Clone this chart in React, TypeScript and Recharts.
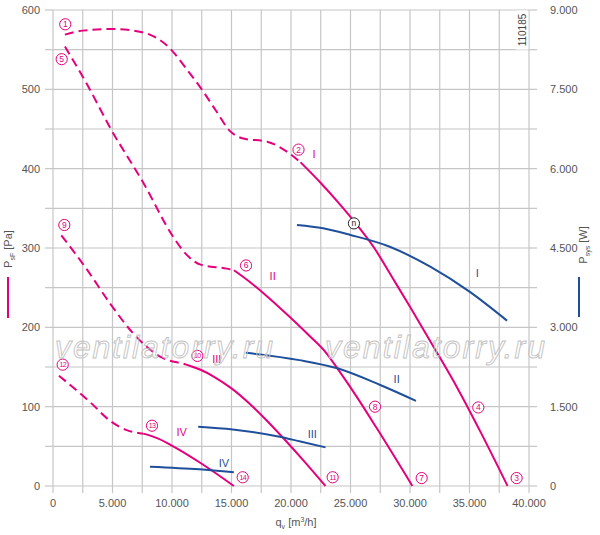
import React from 'react';
import { ComposedChart, Line, XAxis, YAxis, CartesianGrid, ReferenceDot } from 'recharts';

const PINK = '#e4007c';
const BLUE = '#1f4f9b';
const GRID = '#c6c6c6';
const TEXT = '#555555';
const FONT = '"Liberation Sans", Arial, Helvetica, sans-serif';

// tick values
const flowTicks = [0, 2500, 5000, 7500, 10000, 12500, 15000, 17500, 20000, 22500, 25000, 27500, 30000, 32500, 35000, 37500, 40000];
const pressureTicks = [0, 50, 100, 150, 200, 250, 300, 350, 400, 450, 500, 550, 600];
const powerTicks = [0, 750, 1500, 2250, 3000, 3750, 4500, 5250, 6000, 6750, 7500, 8250, 9000];

// pressure curves [Pa] (x = q_v m3/h)
const dashed1 = [
  { x: 1000, y: 569 }, { x: 2500, y: 574 }, { x: 5000, y: 576 }, { x: 7500, y: 572 },
  { x: 9800, y: 552 }, { x: 11200, y: 526 }, { x: 12500, y: 500 }, { x: 13700, y: 473 },
  { x: 14900, y: 447 }, { x: 16000, y: 438 }, { x: 18000, y: 434 }, { x: 19700, y: 421 }, { x: 20800, y: 408 },
];
const curveI = [
  { x: 20800, y: 408 }, { x: 22500, y: 382 }, { x: 24000, y: 357 }, { x: 25500, y: 330 },
  { x: 27000, y: 300 }, { x: 28500, y: 263 }, { x: 30000, y: 226 }, { x: 32000, y: 175 },
  { x: 34000, y: 123 }, { x: 36000, y: 66 }, { x: 38200, y: 0 },
];
const dashed5 = [
  { x: 1000, y: 554 }, { x: 2800, y: 508 }, { x: 4900, y: 449 }, { x: 7600, y: 382 },
  { x: 10100, y: 314 }, { x: 11200, y: 292 }, { x: 12400, y: 279 }, { x: 14600, y: 274 }, { x: 15200, y: 272 },
];
const curveII = [
  { x: 15200, y: 272 }, { x: 16300, y: 260 }, { x: 18000, y: 239 }, { x: 19900, y: 213 },
  { x: 21500, y: 190 }, { x: 23000, y: 167 }, { x: 24000, y: 146 }, { x: 25500, y: 113 },
  { x: 27200, y: 73 }, { x: 30200, y: 0 },
];
const dashed9 = [
  { x: 700, y: 316 }, { x: 2800, y: 274 }, { x: 4800, y: 230 }, { x: 6700, y: 193 },
  { x: 9000, y: 163 }, { x: 11200, y: 153 }, { x: 11600, y: 151 },
];
const curveIII = [
  { x: 11600, y: 151 }, { x: 12400, y: 146.5 }, { x: 13500, y: 138 }, { x: 15000, y: 123 },
  { x: 16500, y: 104 }, { x: 18000, y: 82 }, { x: 19500, y: 58 }, { x: 21000, y: 33 }, { x: 22900, y: 0 },
];
const dashed12 = [
  { x: 500, y: 139 }, { x: 3100, y: 106 }, { x: 4900, y: 81 }, { x: 6200, y: 70.5 }, { x: 7600, y: 66 },
];
const curveIV = [
  { x: 7600, y: 66 }, { x: 8800, y: 60 }, { x: 10100, y: 50 }, { x: 12400, y: 29 }, { x: 15200, y: 0 },
];

// power curves [W]
const powerI = [
  { x: 20500, y: 4935 }, { x: 22700, y: 4872 }, { x: 25000, y: 4746 }, { x: 28300, y: 4524 },
  { x: 31700, y: 4146 }, { x: 35000, y: 3674 }, { x: 38150, y: 3126 },
];
const powerII = [
  { x: 16200, y: 2520 }, { x: 20700, y: 2380 }, { x: 23900, y: 2225 }, { x: 27500, y: 1910 }, { x: 30500, y: 1610 },
];
const powerIII = [
  { x: 12200, y: 1121 }, { x: 15100, y: 1070 }, { x: 19050, y: 932 }, { x: 20800, y: 840 }, { x: 22900, y: 730 },
];
const powerIV = [
  { x: 8150, y: 365 }, { x: 12300, y: 315 }, { x: 15200, y: 258 },
];

// circled point markers (x, y in Pa)
const markers = [
  { x: 1030, y: 582, t: '1' }, { x: 20630, y: 424, t: '2' }, { x: 38960, y: 10, t: '3' },
  { x: 35740, y: 99, t: '4' }, { x: 730, y: 538, t: '5' }, { x: 16220, y: 278, t: '6' },
  { x: 30980, y: 10, t: '7' }, { x: 27060, y: 100, t: '8' }, { x: 950, y: 329, t: '9' },
  { x: 12130, y: 164, t: '10' }, { x: 23500, y: 11, t: '11' }, { x: 815, y: 153, t: '12' },
  { x: 8320, y: 76, t: '13' }, { x: 15940, y: 11, t: '14' },
];
const optimum = [{ x: 25290, y: 331, t: 'n' }];

// roman curve labels (x, y in Pa)
const pinkLabels = [
  { x: 21930, y: 418, t: 'I' }, { x: 18460, y: 265, t: 'II' },
  { x: 13760, y: 160, t: 'III' }, { x: 10820, y: 68, t: 'IV' },
];
const blueLabels = [
  { x: 35650, y: 268, t: 'I' }, { x: 28880, y: 135, t: 'II' },
  { x: 21790, y: 66, t: 'III' }, { x: 14370, y: 29, t: 'IV' },
];

const fmtThousands = (v: number) => {
  if (v === 0) return '0';
  const th = Math.floor(v / 1000);
  const rest = String(v % 1000).padStart(3, '0');
  return `${th}.${rest}`;
};

const Circled = (props: any) => {
  const { cx, cy, t, color } = props;
  const two = t.length > 1;
  return (
    <g>
      <circle cx={cx} cy={cy} r={5.6} fill="#ffffff" stroke={color} strokeWidth={1} />
      <text x={cx} y={cy + (two ? 2.6 : 3)} textAnchor="middle" fontSize={two ? 7 : 8.5}
        fontFamily={FONT} fill={color} letterSpacing={two ? -0.6 : 0}>{t}</text>
    </g>
  );
};

const Roman = (props: any) => {
  const { cx, cy, t, color } = props;
  return (
    <text x={cx} y={cy + 4} textAnchor="middle" fontSize={11} fontFamily={FONT} fill={color}>{t}</text>
  );
};

const lineCommon = { type: 'monotone' as const, dataKey: 'y', dot: false, activeDot: false, isAnimationActive: false, strokeWidth: 2 };

export default function App() {
  return (
    <div style={{ position: 'absolute', left: 0, top: 0, width: 600, height: 535, background: '#fff' }}>
      <ComposedChart width={600} height={535} margin={{ top: 10, right: 0, bottom: 0, left: 0 }}>
        <CartesianGrid stroke={GRID} strokeWidth={1.2} />
        <XAxis dataKey="x" type="number" domain={[0, 40000]} ticks={flowTicks} interval={0}
          allowDataOverflow height={49} axisLine={false} tickLine={{ stroke: GRID, strokeWidth: 1.2 }}
          tickSize={7} tickMargin={6}
          tick={{ fill: TEXT, fontSize: 11, fontFamily: FONT }}
          tickFormatter={(v: number) => (v % 5000 === 0 ? fmtThousands(v) : '')} />
        <YAxis type="number" domain={[0, 600]} ticks={pressureTicks} interval={0} width={53}
          axisLine={false} tickLine={{ stroke: GRID, strokeWidth: 1.2 }} tickSize={8} tickMargin={5}
          tick={{ fill: TEXT, fontSize: 11, fontFamily: FONT }}
          tickFormatter={(v: number) => (v % 100 === 0 ? String(v) : '')} />
        <YAxis yAxisId="right" orientation="right" type="number" domain={[0, 9000]} ticks={powerTicks}
          interval={0} width={71} axisLine={false} tickLine={{ stroke: GRID, strokeWidth: 1.2 }}
          tickSize={8} tickMargin={13}
          tick={{ fill: TEXT, fontSize: 11, fontFamily: FONT, textAnchor: 'start' }}
          tickFormatter={(v: number) => (v % 1500 === 0 ? fmtThousands(v) : '')} />

        <Line {...lineCommon} data={dashed1} stroke={PINK} strokeDasharray="9 5" />
        <Line {...lineCommon} data={dashed5} stroke={PINK} strokeDasharray="9 5" />
        <Line {...lineCommon} data={dashed9} stroke={PINK} strokeDasharray="9 5" />
        <Line {...lineCommon} data={dashed12} stroke={PINK} strokeDasharray="9 5" />
        <Line {...lineCommon} data={curveI} stroke={PINK} />
        <Line {...lineCommon} data={curveII} stroke={PINK} />
        <Line {...lineCommon} data={curveIII} stroke={PINK} />
        <Line {...lineCommon} data={curveIV} stroke={PINK} />
        <Line {...lineCommon} yAxisId="right" data={powerI} stroke={BLUE} />
        <Line {...lineCommon} yAxisId="right" data={powerII} stroke={BLUE} />
        <Line {...lineCommon} yAxisId="right" data={powerIII} stroke={BLUE} />
        <Line {...lineCommon} yAxisId="right" data={powerIV} stroke={BLUE} />

        {markers.map((m) => (
          <ReferenceDot key={'m' + m.t} x={m.x} y={m.y} r={0} ifOverflow="visible"
            shape={(p: any) => <Circled cx={p.cx} cy={p.cy} t={m.t} color={PINK} />} />
        ))}
        {optimum.map((m) => (
          <ReferenceDot key={'o' + m.t} x={m.x} y={m.y} r={0} ifOverflow="visible"
            shape={(p: any) => <Circled cx={p.cx} cy={p.cy} t={m.t} color="#222" />} />
        ))}
        {pinkLabels.map((m) => (
          <ReferenceDot key={'p' + m.t} x={m.x} y={m.y} r={0} ifOverflow="visible"
            shape={(p: any) => <Roman cx={p.cx} cy={p.cy} t={m.t} color={PINK} />} />
        ))}
        {blueLabels.map((m) => (
          <ReferenceDot key={'b' + m.t} x={m.x} y={m.y} r={0} ifOverflow="visible"
            shape={(p: any) => <Roman cx={p.cx} cy={p.cy} t={m.t} color={BLUE} />} />
        ))}
      </ComposedChart>

      <svg width={600} height={535} style={{ position: 'absolute', left: 0, top: 0, pointerEvents: 'none' }}>
        {/* watermark */}
        <text x={55} y={358} fontSize={32} fontStyle="italic" fontFamily={FONT} fill="none"
          stroke="#c2c2c2" strokeWidth={0.9} textLength={218} lengthAdjust="spacing">ventilatorry.ru</text>
        <text x={325} y={358} fontSize={32} fontStyle="italic" fontFamily={FONT} fill="none"
          stroke="#c2c2c2" strokeWidth={0.9} textLength={220} lengthAdjust="spacing">ventilatorry.ru</text>

        {/* drawing number */}
        <rect x={516} y={10.6} width={12.4} height={39} fill="#ffffff" />
        <text x={526} y={30} transform="rotate(-90 526 30)" textAnchor="middle" fontSize={10}
          fontFamily={FONT} fill="#444">110185</text>

        {/* left axis title */}
        <text x={12} y={249} transform="rotate(-90 12 249)" textAnchor="middle" fontSize={11}
          fontFamily={FONT} fill={TEXT}>
          P<tspan fontSize={7} dy={3}>sF</tspan><tspan dy={-3}> [Pa]</tspan>
        </text>
        <line x1={8} y1={277} x2={8} y2={318} stroke={PINK} strokeWidth={2} />

        {/* right axis title */}
        <text x={587} y={245} transform="rotate(-90 587 245)" textAnchor="middle" fontSize={11}
          fontFamily={FONT} fill={TEXT}>
          P<tspan fontSize={7} dy={3}>sys</tspan><tspan dy={-3}> [W]</tspan>
        </text>
        <line x1={579} y1={277} x2={579} y2={317} stroke={BLUE} strokeWidth={2} />

        {/* x axis title */}
        <text x={296} y={526} textAnchor="middle" fontSize={11} fontFamily={FONT} fill={TEXT}>
          q<tspan fontSize={7} dy={3}>v</tspan><tspan dy={-3}> [m</tspan><tspan fontSize={7} dy={-4}>3</tspan><tspan dy={4}>/h]</tspan>
        </text>
      </svg>
    </div>
  );
}
